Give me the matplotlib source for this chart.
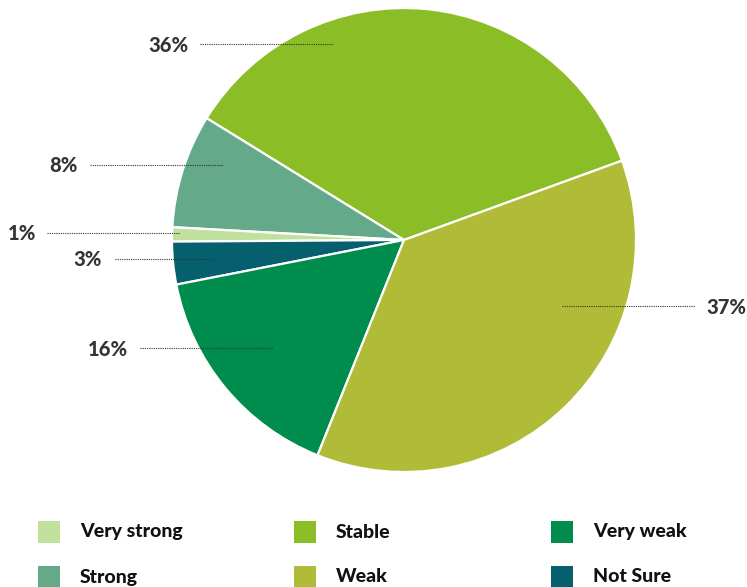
import matplotlib
matplotlib.use("Agg")
from matplotlib import pyplot as plt
from matplotlib.patches import Rectangle

# data (legend order)
categories = ["Very strong", "Strong", "Stable", "Weak", "Very weak", "Not Sure"]
values = [1, 8, 36, 37, 16, 3]
colors = ["#c1e09e", "#64a98a", "#8bbd26", "#b0bb38", "#008c4c", "#055f6c"]

# pie drawn counter-clockwise starting at the Stable/Weak boundary
pie_order = ["Stable", "Strong", "Very strong", "Not Sure", "Very weak", "Weak"]

W, H = 747, 587
fig = plt.figure(figsize=(W / 100, H / 100), dpi=100)
ax = fig.add_axes([0, 0, 1, 1])

idx = [categories.index(c) for c in pie_order]
ax.pie([values[i] for i in idx], colors=[colors[i] for i in idx],
       startangle=20, counterclock=True, center=(404, H - 240), radius=232,
       wedgeprops=dict(edgecolor="white", linewidth=1.6), frame=True)

# percent labels: (text x, text y, line x0, line x1, ha) in pixels
label_layout = {
    "Stable":      (188, 45, 200, 333, "right"),
    "Strong":      (78, 166, 90, 223, "right"),
    "Very strong": (36, 234, 47, 180, "right"),
    "Not Sure":    (102, 260, 115, 213, "right"),
    "Very weak":   (128, 349, 140, 273, "right"),
    "Weak":        (706, 307, 562, 695, "left"),
}
for cat, (tx, ty, x0, x1, ha) in label_layout.items():
    v = values[categories.index(cat)]
    ax.plot([x0, x1], [H - ty + 1, H - ty + 1], color="#333333", lw=0.8,
            linestyle=(0, (1, 1)))
    ax.text(tx, H - ty, f"{v}%", ha=ha, va="center", fontsize=14.5,
            fontweight="black", fontstyle="normal", color="#333333",
            family=["Lato", "DejaVu Sans"])

# legend 3 columns x 2 rows
col_x = [38, 294, 551]
row_y = [532, 577]
for k, cat in enumerate(categories):
    col, row = k // 2, k % 2
    x, y = col_x[col], row_y[row]
    ax.add_patch(Rectangle((x, H - y - 11), 22, 22, color=colors[k], lw=0))
    ax.text(x + 42, H - y, cat, ha="left", va="center", fontsize=14,
            fontweight="black", fontstyle="normal", color="#111111",
            family=["Lato", "DejaVu Sans"])

ax.set_xlim(0, W)
ax.set_ylim(0, H)
ax.set_aspect("auto")
ax.axis("off")
fig.savefig("out.png", dpi=100)
